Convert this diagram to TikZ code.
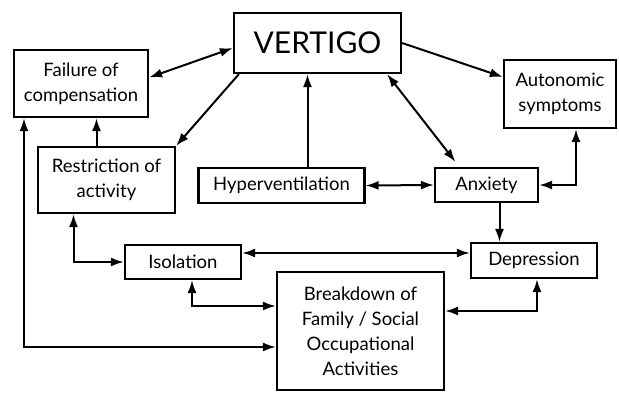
\documentclass[tikz,border=0pt]{standalone}
\usepackage{fontspec}
\setmainfont{Lato}
\usepackage{tikz}
\usetikzlibrary{positioning}
\usetikzlibrary{arrows.meta}
\usetikzlibrary{calc}
\tikzset{box/.style = {draw, line width=2.2pt, align=center, inner sep=0pt,
    font=\fontsize{18.5}{25}\selectfont}}
\tikzset{link/.style = {line width=2pt}}
\tikzset{one/.style = {link, -{Latex[length=13pt,width=9pt]}}}
\tikzset{both/.style = {link, {Latex[length=13pt,width=9pt]}-{Latex[length=13pt,width=9pt]}}}

\begin{document}
\begin{tikzpicture}[x=1pt,y=-1pt]
  \useasboundingbox (0,0) rectangle (619,392);
  % boxes
  \node[box, minimum width=167, minimum height=60, font=\fontsize{30}{32}\selectfont] (vertigo) at (317.5,43) {VERTIGO};
  \node[box, minimum width=134, minimum height=67] (failure) at (81,83.5) {Failure of\\compensation};
  \node[box, minimum width=137, minimum height=66] (restrict) at (106.5,180) {Restriction of\\activity};
  \node[box, minimum width=166, minimum height=35] (hyper) at (281.5,185.5) {Hyperventilation};
  \node[box, minimum width=103, minimum height=34] (anxiety) at (486.5,185) {Anxiety};
  \node[box, minimum width=112, minimum height=68] (autonomic) at (560,94) {Autonomic\\symptoms};
  \node[box, minimum width=116, minimum height=34] (isolation) at (183,262) {Isolation};
  \node[box, minimum width=126, minimum height=35] (depression) at (534,260.5) {Depression};
  \node[box, minimum width=167, minimum height=118] (breakdown) at (360.5,331) {Breakdown of\\Family / Social\\Occupational\\Activities};
  % links from vertigo
  \draw[both] ([yshift=6pt]failure.east) -- ([yshift=-5pt]vertigo.west);
  \draw[one] ([xshift=6pt]vertigo.south west) -- (restrict.north east);
  \draw[one] ([xshift=-10pt]vertigo.south |- hyper.north) -- ([xshift=-10pt]vertigo.south);
  \draw[both] ([xshift=-15pt]vertigo.south east) -- ([xshift=-31pt,yshift=5pt]anxiety.north);
  \draw[one] (vertigo.east) -- ([yshift=17pt]autonomic.west);
  % middle row
  \draw[both] (hyper.east) -- (anxiety.west);
  \draw[both] (anxiety.east) -| ([xshift=16pt]autonomic.south);
  \draw[one] ([xshift=13pt]anxiety.south) -- ([xshift=13pt]anxiety.south |- depression.north);
  \draw[one] ([xshift=-10pt]restrict.north) -- ([xshift=-10pt]restrict.north |- failure.south);
  % lower part
  \draw[both] ([xshift=-33pt]restrict.south) |- (isolation.west);
  \draw[both] ([yshift=9pt]isolation.east) -- ([yshift=9pt]isolation.east -| depression.west);
  \draw[both] ([xshift=9pt]isolation.south) |- ([yshift=25pt]breakdown.west);
  \draw[both] ([xshift=3pt]depression.south) |- ([yshift=20pt]breakdown.east);
  \draw[both] ([xshift=-57pt]failure.south) |- ([yshift=-16pt]breakdown.west);
\end{tikzpicture}
\end{document}
